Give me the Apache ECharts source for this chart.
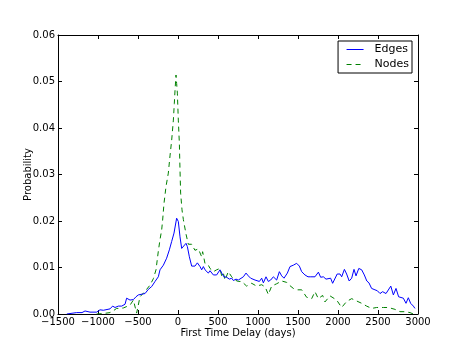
<!DOCTYPE html>
<html>
<head>
<meta charset="utf-8">
<script src="https://cdn.jsdelivr.net/npm/echarts@6/dist/echarts.min.js"></script>
<style>
html,body{margin:0;padding:0;background:#fff;}
#chart{width:465px;height:349px;}
</style>
</head>
<body>
<div id="chart"></div>
<script>
const xTicks = [-1500, -1000, -500, 0, 500, 1000, 1500, 2000, 2500, 3000];
const yTicks = [0, 0.01, 0.02, 0.03, 0.04, 0.05, 0.06];
const seriesNames = ["Edges", "Nodes"];

const edgeDays = [-1390,-1267,-1200,-1162,-1100,-1017,-975,-933,-912,-850,-817,-787,-746,-704,-662,-642,-600,-558,-525,-496,-475,-442,-412,-371,-329,-287,-246,-225,-183,-142,-108,-79,-50,-17,4,25,46,67,100,117,142,171,212,242,275,296,317,338,355,379,400,421,442,462,483,525,546,575,608,642,671,692,725,754,775,817,850,879,908,933,963,983,1017,1046,1067,1100,1129,1158,1192,1233,1267,1296,1325,1367,1400,1442,1483,1517,1546,1587,1625,1660,1712,1755,1783,1817,1850,1875,1908,1933,1990,2025,2046,2080,2108,2140,2171,2200,2225,2260,2296,2329,2360,2387,2420,2462,2492,2525,2558,2600,2660,2692,2725,2758,2817,2850,2879,2908,2942,2962];
const edgeVals = [0,0.0003,0.0003,0.00065,0.0004,0.0004,0.0009,0.0008,0.0011,0.0011,0.0017,0.0014,0.0017,0.0017,0.0021,0.0034,0.003,0.0031,0.0037,0.0041,0.0037,0.0043,0.0044,0.0053,0.0059,0.007,0.008,0.0095,0.0105,0.012,0.0138,0.0156,0.0174,0.0206,0.0199,0.0166,0.0141,0.0138,0.0152,0.0145,0.0123,0.0103,0.0103,0.011,0.0102,0.0095,0.0102,0.0095,0.0098,0.0088,0.0093,0.0089,0.0084,0.0086,0.0084,0.0095,0.0088,0.008,0.0079,0.0075,0.0077,0.0072,0.0075,0.0073,0.0073,0.008,0.0088,0.0082,0.0077,0.008,0.0073,0.007,0.007,0.0077,0.0067,0.008,0.007,0.0073,0.008,0.0073,0.0091,0.0082,0.0077,0.0088,0.0102,0.0105,0.0109,0.0103,0.0091,0.0084,0.008,0.008,0.008,0.009,0.0079,0.008,0.0075,0.0079,0.0077,0.0066,0.0086,0.0086,0.008,0.0096,0.0086,0.0071,0.0077,0.0096,0.0082,0.0098,0.0095,0.0084,0.0071,0.0067,0.0055,0.0052,0.005,0.0044,0.0048,0.0044,0.006,0.0041,0.0055,0.0037,0.0034,0.0023,0.0035,0.0023,0.0017,0.0012];

const nodeDays = [-1017,-933,-850,-800,-767,-725,-683,-642,-600,-558,-517,-475,-433,-392,-350,-308,-275,-246,-225,-204,-192,-175,-150,-121,-100,-79,-58,-46,-37,-25,-17,-8,4,17,25,33,50,67,100,129,171,212,254,296,308,337,379,400,442,483,525,546,567,587,629,671,712,754,796,858,921,983,1046,1090,1129,1171,1233,1296,1358,1392,1442,1483,1546,1608,1671,1712,1754,1808,1837,1900,1983,2046,2108,2171,2233,2296,2358,2421,2483,2567,2629,2712,2775,2837,2900,2942];
const nodeVals = [0,0.0001,0.0003,0.0008,0.0012,0.0012,0.0013,0.0016,0.0019,0.003,0.0002,0.0037,0.0045,0.0053,0.0062,0.0076,0.0095,0.0135,0.016,0.0181,0.0202,0.0238,0.0274,0.0303,0.034,0.0374,0.0417,0.0453,0.0482,0.0514,0.0496,0.0475,0.0417,0.0367,0.031,0.026,0.0224,0.0203,0.0172,0.015,0.015,0.0137,0.014,0.0123,0.0134,0.0109,0.0105,0.0098,0.0091,0.0095,0.0098,0.0082,0.0088,0.0073,0.0091,0.008,0.0073,0.007,0.007,0.006,0.0066,0.006,0.0063,0.0058,0.0042,0.006,0.0065,0.0071,0.0068,0.0062,0.0055,0.0052,0.0052,0.0036,0.0033,0.0048,0.0033,0.004,0.0026,0.0039,0.003,0.0014,0.0027,0.0033,0.0028,0.0023,0.0017,0.0012,0.0014,0.0014,0.0014,0.001,0.0005,0.0005,0.0003,0];

const FONT = 'DejaVu Sans';
const pair = (xs, ys) => xs.map((x, i) => [x, ys[i]]);
const minusFmt = v => String(v).replace('-', '\u2212');

const baseX = {
  type: 'value', min: xTicks[0], max: xTicks[xTicks.length - 1], interval: 500,
  axisLine: { show: true, onZero: false, lineStyle: { color: '#000', width: 1 } },
  axisTick: { show: true, inside: true, length: 4, lineStyle: { color: '#000' } },
  splitLine: { show: false }
};
const baseY = {
  type: 'value', min: yTicks[0], max: yTicks[yTicks.length - 1], interval: 0.01,
  axisLine: { show: true, onZero: false, lineStyle: { color: '#000', width: 1 } },
  axisTick: { show: true, inside: true, length: 4, lineStyle: { color: '#000' } },
  splitLine: { show: false }
};

const chart = echarts.init(document.getElementById('chart'), null, { renderer: 'canvas' });
chart.setOption({
  animation: false,
  backgroundColor: '#fff',
  textStyle: { fontFamily: FONT },
  grid: { left: 58, right: 47, top: 35, bottom: 35, containLabel: false },
  legend: {
    orient: 'vertical', right: 53, top: 41,
    data: seriesNames,
    itemWidth: 17, itemHeight: 12, itemGap: 4,
    padding: [3, 3, 3, 8],
    borderColor: '#000', borderWidth: 1, borderRadius: 0,
    backgroundColor: '#fff',
    itemStyle: { opacity: 0 },
    lineStyle: { width: 1 },
    textStyle: { fontFamily: FONT, fontSize: 11, color: '#000', padding: [0, 0, 0, 6] }
  },
  xAxis: [
    Object.assign({}, baseX, {
      position: 'bottom',
      name: 'First Time Delay (days)', nameLocation: 'middle', nameGap: 14, nameMoveOverlap: false,
      nameTextStyle: { fontFamily: FONT, fontSize: 10, color: '#000' },
      axisLabel: { show: true, margin: 3, fontFamily: FONT, fontSize: 10, color: '#000', formatter: minusFmt }
    }),
    Object.assign({}, baseX, { position: 'top', axisLabel: { show: false } })
  ],
  yAxis: [
    Object.assign({}, baseY, {
      position: 'left',
      name: 'Probability', nameLocation: 'middle', nameGap: 25, nameRotate: 90, nameMoveOverlap: false,
      nameTextStyle: { fontFamily: FONT, fontSize: 10, color: '#000' },
      axisLabel: { show: true, margin: 3, fontFamily: FONT, fontSize: 10, color: '#000', formatter: v => v.toFixed(2) }
    }),
    Object.assign({}, baseY, { position: 'right', axisLabel: { show: false } })
  ],
  series: [
    {
      name: seriesNames[0], type: 'line', xAxisIndex: 0, yAxisIndex: 0,
      data: pair(edgeDays, edgeVals), symbol: 'none', showSymbol: false,
      lineStyle: { color: '#0000ff', width: 1 }, itemStyle: { color: '#0000ff' },
      clip: true, z: 3
    },
    {
      name: seriesNames[1], type: 'line', xAxisIndex: 0, yAxisIndex: 0,
      data: pair(nodeDays, nodeVals), symbol: 'none', showSymbol: false,
      lineStyle: { color: '#008000', width: 1, type: [5, 4] }, itemStyle: { color: '#008000' },
      clip: true, z: 2
    }
  ]
});
</script>
</body>
</html>
